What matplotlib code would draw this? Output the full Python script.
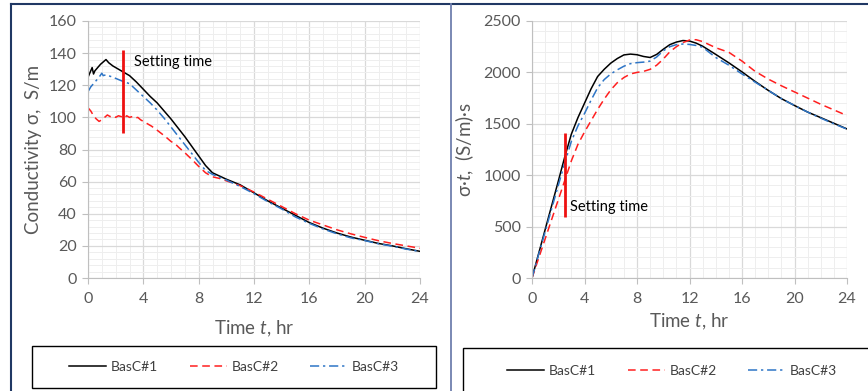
import matplotlib
matplotlib.use("Agg")
import matplotlib.pyplot as plt
from matplotlib.lines import Line2D
from matplotlib.patches import Rectangle
from matplotlib.ticker import MultipleLocator

plt.rcParams['font.family'] = ['Lato', 'DejaVu Sans']
plt.rcParams['mathtext.fontset'] = 'custom'
plt.rcParams['mathtext.rm'] = 'Lato'
plt.rcParams['mathtext.it'] = 'Lato:italic'

# ---- left panel: conductivity vs time ----
t_b1 = [0, 0.15, 0.3, 0.4, 0.5, 0.7, 0.9, 1.1, 1.3, 1.5, 1.8, 2.2, 2.6, 3.0, 3.5,
        4.0, 4.5, 5.0, 5.5, 6.0, 6.5, 7.0, 7.5, 8.0, 8.5, 9.0, 9.5, 10, 11, 12,
        13, 14, 15, 16, 17, 18, 19, 20, 21, 22, 23, 24]
cond_b1 = [125, 128, 131, 127, 129, 131, 133, 134.5, 136, 134, 132, 130, 128, 126, 122,
           117.5, 113, 109, 104, 99, 93.5, 88, 82, 76, 70, 65.5, 63.5, 61.5, 58, 53,
           48, 43.5, 39, 34.5, 31, 28, 25.5, 23.5, 21.5, 20, 18.2, 16.6]

t_b2 = [0, 0.2, 0.4, 0.6, 0.8, 1.0, 1.2, 1.4, 1.6, 1.8, 2.0, 2.2, 2.4, 2.6, 2.8,
        3.0, 3.2, 3.4, 3.6, 3.8, 4.0, 4.3, 4.6, 5.0, 5.3, 5.6, 6.0, 6.3, 6.6, 7.0,
        7.3, 7.6, 8.0, 8.5, 9, 9.5, 10, 11, 12, 13, 14, 15, 16, 17, 18, 19, 20,
        21, 22, 23, 24]
cond_b2 = [106, 104, 101, 99, 97.5, 98.5, 100, 101.5, 100.5, 101, 100, 101, 100.5, 99.5, 101,
           100, 100.5, 99.5, 100, 98.5, 97.5, 96, 94.5, 92, 90, 88, 85, 83.5, 81, 78,
           75.5, 73, 69.5, 65.5, 63, 62, 60.5, 57.5, 53.5, 49, 44.5, 40, 36, 33, 30, 27.5, 25.3,
           23.2, 21.5, 20, 18.5]

t_b3 = [0, 0.2, 0.4, 0.6, 0.8, 1.0, 1.1, 1.3, 1.8, 2.5, 3.0, 3.5, 4.0, 4.5, 5.0,
        5.5, 6.0, 6.5, 7.0, 7.5, 8.0, 8.5, 9.0, 10, 11, 12, 13, 14, 15, 16, 17,
        18, 19, 20, 21, 22, 23, 24]
cond_b3 = [116, 119, 121, 123, 125, 127.5, 126, 126.5, 125, 122.5, 121, 117, 113, 109, 104.5,
           99.5, 94, 88.5, 83, 77.5, 72, 67, 64.5, 61, 57, 52.5, 47.5, 43, 38, 34, 30.5,
           27.5, 25, 23.3, 21.3, 19.8, 18, 16.5]

# ---- right panel: sigma*t vs time ----
t_r = [0, 1, 2, 2.5, 3, 3.5, 4, 4.5, 5, 5.5, 6, 6.5, 7, 7.5, 8, 8.5, 9, 9.5,
       10, 10.5, 11, 11.5, 12, 12.5, 13, 14, 15, 16, 17, 18, 19, 20, 21, 22, 23, 24]
st_b1 = [0, 470, 940, 1180, 1400, 1560, 1700, 1840, 1960, 2030, 2090, 2135, 2170, 2178, 2172, 2155, 2145, 2175,
         2225, 2270, 2295, 2310, 2305, 2285, 2255, 2175, 2093, 2005, 1912, 1825, 1745, 1678, 1614, 1560, 1505, 1450]
st_b2 = [0, 380, 760, 950, 1140, 1300, 1420, 1530, 1640, 1740, 1830, 1900, 1950, 1985, 2000, 2010, 2030, 2070,
         2130, 2200, 2250, 2290, 2315, 2318, 2300, 2240, 2195, 2110, 2010, 1935, 1870, 1810, 1750, 1690, 1635, 1580]
st_b3 = [0, 450, 900, 1120, 1330, 1480, 1600, 1730, 1850, 1930, 1985, 2025, 2060, 2085, 2095, 2100, 2110, 2150,
         2210, 2250, 2270, 2276, 2272, 2262, 2245, 2145, 2070, 1985, 1905, 1825, 1745, 1678, 1614, 1555, 1500, 1448]

labels = ['BasC#1', 'BasC#2', 'BasC#3']
setting_t = 2.5

W, H = 868, 391
fig = plt.figure(figsize=(W / 100, H / 100), dpi=100)

ax1 = fig.add_axes([88 / W, 1 - 278 / H, 332 / W, 257 / H])
ax2 = fig.add_axes([532 / W, 1 - 278 / H, 315 / W, 257 / H])

tick_col = '#595959'
red = '#ff1f1f'
blue = '#2e75c6'


def style(ax, ymax, ymaj, ymin):
    ax.set_xlim(0, 24)
    ax.set_ylim(0, ymax)
    ax.xaxis.set_major_locator(MultipleLocator(4))
    ax.xaxis.set_minor_locator(MultipleLocator(1))
    ax.yaxis.set_major_locator(MultipleLocator(ymaj))
    ax.yaxis.set_minor_locator(MultipleLocator(ymin))
    ax.grid(which='major', color='#d9d9d9', lw=0.9)
    ax.grid(which='minor', color='#eeeeee', lw=0.7)
    ax.set_axisbelow(True)
    for s in ['top', 'right']:
        ax.spines[s].set_visible(False)
    for s in ['left', 'bottom']:
        ax.spines[s].set_color('#bfbfbf')
    ax.tick_params(which='major', length=4, color='#bfbfbf', labelcolor=tick_col,
                   labelsize=11.5, pad=4)
    ax.tick_params(axis='x', which='major', pad=6)
    ax.tick_params(which='minor', length=0)


style(ax1, 160, 20, 4)
style(ax2, 2500, 500, 100)

ax1.plot(t_b1, cond_b1, color='black', lw=1.1, label=labels[0])
ax1.plot(t_b2, cond_b2, color=red, lw=1.1, dashes=(5, 3), label=labels[1])
ax1.plot(t_b3, cond_b3, color=blue, lw=1.1, dashes=(6, 2.5, 1.5, 2.5), label=labels[2])
ax1.vlines(setting_t, 90, 142, color='#ee1111', lw=2)
ax1.text(3.3, 134.5, 'Setting time', fontsize=10.5, color='black', va='center')
ax1.set_ylabel('Conductivity σ,  S/m', fontsize=13.5, color=tick_col, labelpad=5)
ax1.set_xlabel('Time $t$, hr', fontsize=13.5, color=tick_col, labelpad=9)

ax2.plot(t_r, st_b1, color='black', lw=1.1, label=labels[0])
ax2.plot(t_r, st_b2, color=red, lw=1.1, dashes=(5, 3), label=labels[1])
ax2.plot(t_r, st_b3, color=blue, lw=1.1, dashes=(6, 2.5, 1.5, 2.5), label=labels[2])
ax2.vlines(setting_t, 590, 1410, color='#ee1111', lw=2)
ax2.text(2.9, 690, 'Setting time', fontsize=10.5, color='black', va='center')
ax2.set_ylabel('σ·$t$,  (S/m)·s', fontsize=13.5, color=tick_col, labelpad=5)
ax2.set_xlabel('Time $t$, hr', fontsize=13.5, color=tick_col, labelpad=4)

# legend boxes
fig.patches.append(Rectangle((32 / W, 1 - 388 / H), 404 / W, 42 / H, transform=fig.transFigure,
                             fill=False, edgecolor='black', lw=1.0))
fig.patches.append(Rectangle((463 / W, 1 - 396 / H), 420 / W, 48 / H, transform=fig.transFigure,
                             fill=False, edgecolor='black', lw=1.0))

h1, l1 = ax1.get_legend_handles_labels()
fig.legend(h1, l1, loc='center', bbox_to_anchor=(234 / W, 1 - 367 / H), ncol=3, frameon=False,
           fontsize=10, handlelength=2.7, handletextpad=0.3, columnspacing=2.3,
           labelcolor='#404040')
h2, l2 = ax2.get_legend_handles_labels()
fig.legend(h2, l2, loc='center', bbox_to_anchor=(672 / W, 1 - 371 / H), ncol=3, frameon=False,
           fontsize=10, handlelength=2.7, handletextpad=0.3, columnspacing=2.3,
           labelcolor='#404040')

# panel frame lines
fig.add_artist(Line2D([11 / W, 1], [1 - 4 / H, 1 - 4 / H], transform=fig.transFigure,
                      color='#203864', lw=1.5))
fig.add_artist(Line2D([11 / W, 11 / W], [0, 1 - 4 / H], transform=fig.transFigure,
                      color='#203864', lw=1.5))
fig.add_artist(Line2D([451 / W, 451 / W], [0, 1 - 4 / H], transform=fig.transFigure,
                      color='#6f7fae', lw=1.3))

fig.savefig('out.png', dpi=100)
